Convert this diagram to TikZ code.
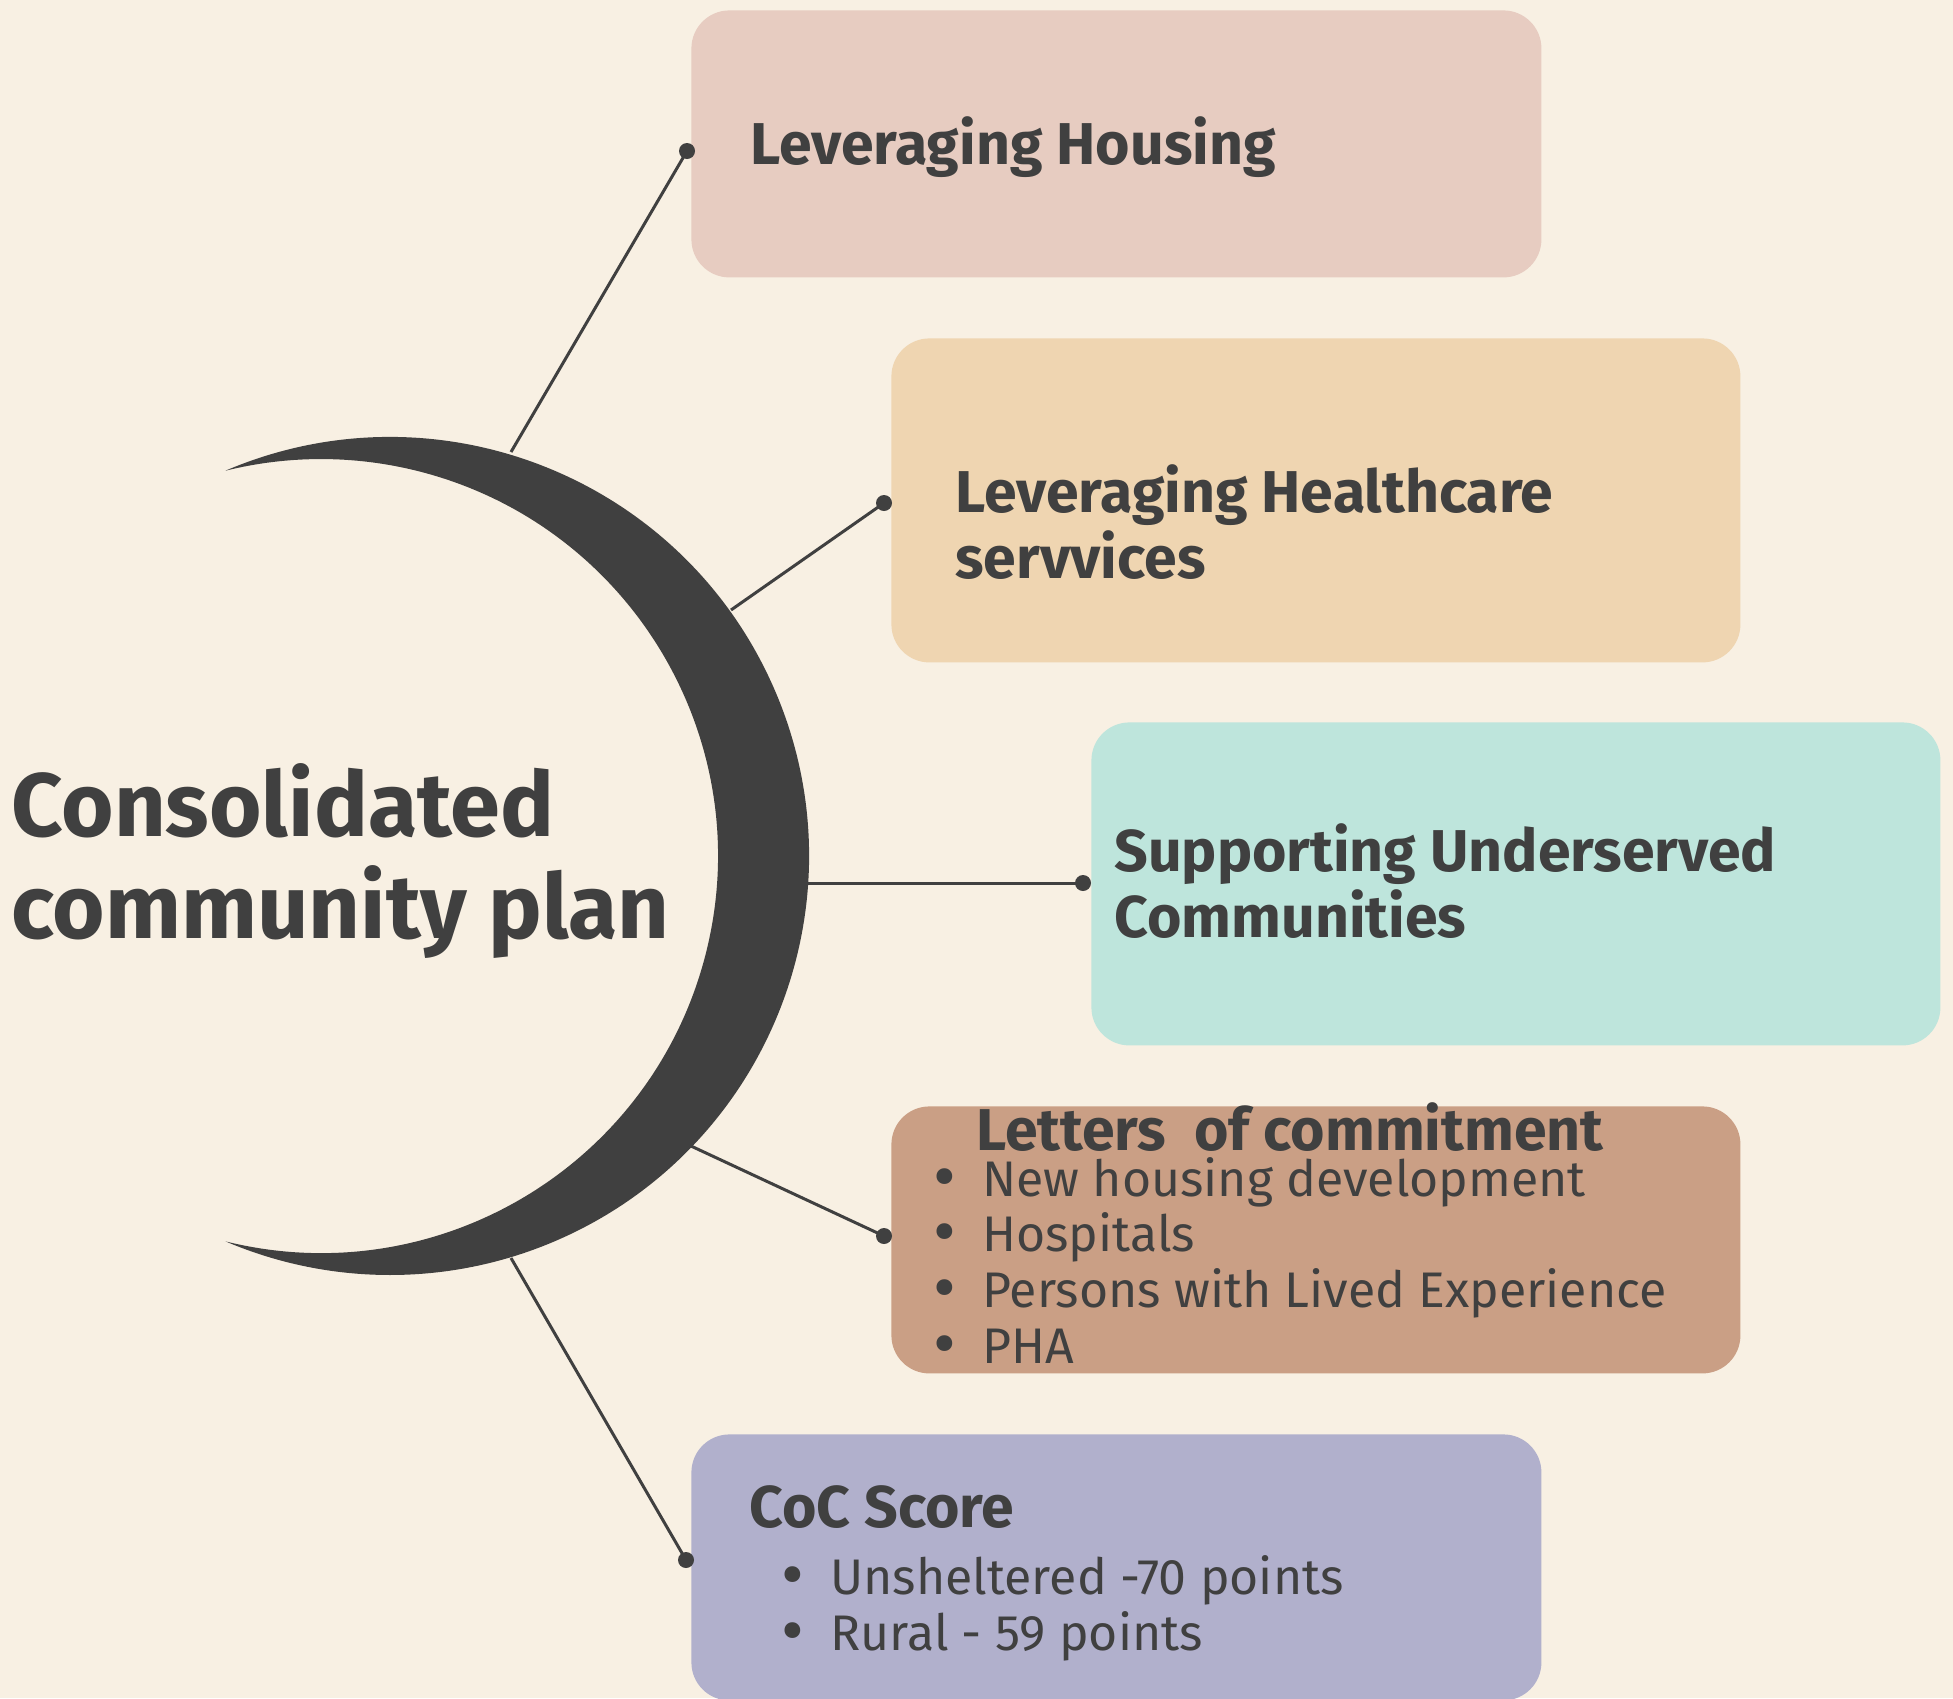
\documentclass[tikz,border=0pt]{standalone}
\usepackage{fontspec}
\setmainfont{Fira Sans}
\usepackage{xcolor}
\usepackage{graphicx}
\usepackage{tikz}

\definecolor{cream}{HTML}{F8F0E3}
\definecolor{ink}{HTML}{404040}
\definecolor{rose}{HTML}{E7CCC1}
\definecolor{sand}{HTML}{EFD5B1}
\definecolor{mint}{HTML}{BEE5DC}
\definecolor{clay}{HTML}{CA9F85}
\definecolor{lilac}{HTML}{B1B0CC}

\newcommand{\itm}{\llap{\makebox[38pt]{\raisebox{-2pt}{\scalebox{1.4}{\textbullet}}}}}

\begin{document}
\begin{tikzpicture}[x=0.5pt,y=-0.5pt,
    card/.style={rounded corners=19pt,inner sep=0pt,anchor=north west},
    dot/.style={circle,fill=ink,inner sep=0pt,minimum size=8pt},
    link/.style={draw=ink,line width=1.5pt},
    title/.style={font=\fontsize{45pt}{51pt}\selectfont\bfseries,text=ink,inner sep=0pt,align=left,anchor=base west},
    head/.style={font=\fontsize{29.5pt}{33pt}\selectfont\bfseries,text=ink,inner sep=0pt,align=left,anchor=base west},
    item/.style={font=\fontsize{25pt}{27.8pt}\selectfont,text=ink,inner sep=0pt,align=left,anchor=base west}]
    \useasboundingbox (0,0) rectangle (1953,1698);
    \fill[cream] (0,0) rectangle (1953,1698);

    % boxes
    \node [card,fill=rose,minimum width=425pt,minimum height=133.5pt] (house) at (691,10) {};
    \node [card,fill=sand,minimum width=424.5pt,minimum height=162pt] (health) at (891,338) {};
    \node [card,fill=mint,minimum width=424.5pt,minimum height=161.5pt] (support) at (1091,722) {};
    \node [card,fill=clay,minimum width=424.5pt,minimum height=133.5pt] (letters) at (891,1106) {};
    \node [card,fill=lilac,minimum width=425pt,minimum height=133pt] (coc) at (691,1434) {};

    % ends of the spokes
    \coordinate (s1) at (511,452);
    \coordinate (s2) at (731,610);
    \coordinate (s3) at (807,883);
    \coordinate (s4) at (691,1146);
    \coordinate (s5) at (511,1258);
    \node [dot] (d1) at (687,151) {};
    \node [dot] (d2) at (884,503) {};
    \node [dot] (d3) at (1083,883) {};
    \node [dot] (d4) at (884,1236) {};
    \node [dot] (d5) at (686,1560) {};
    \draw [link] (s1) -- (d1.center);
    \draw [link] (s2) -- (d2.center);
    \draw [link] (s3) -- (d3.center);
    \draw [link] (s4) -- (d4.center);
    \draw [link] (s5) -- (d5.center);

    % crescent
    \coordinate (moon) at (390,856);
    \fill [ink] (moon) ++(-113.1:419) arc[start angle=-113.1,end angle=113.1,radius=419]
        arc[start angle=103.9,end angle=-103.9,radius=397] -- cycle;

    % texts
    \node [title] (plan) at (11,938) {Consolidated\\community plan};
    \node [head] (houseT) at (750,164) {Leveraging Housing};
    \node [head] (healthT) at (955,578) {Leveraging Healthcare\\servvices};
    \node [head] (supportT) at (1114,937) {Supporting Underserved\\Communities};
    \node [head] (lettersT) at (976,1150) {Letters~ of commitment};
    \node [item] (lettersL) at (982,1363) {\itm New housing development\\\itm Hospitals\\\itm Persons with Lived Experience\\\itm PHA};
    \node [head] (cocT) at (749,1527) {CoC Score};
    \node [item] (cocL) at (830,1650) {\itm Unsheltered -70 points\\\itm Rural - 59 points};
\end{tikzpicture}
\end{document}
